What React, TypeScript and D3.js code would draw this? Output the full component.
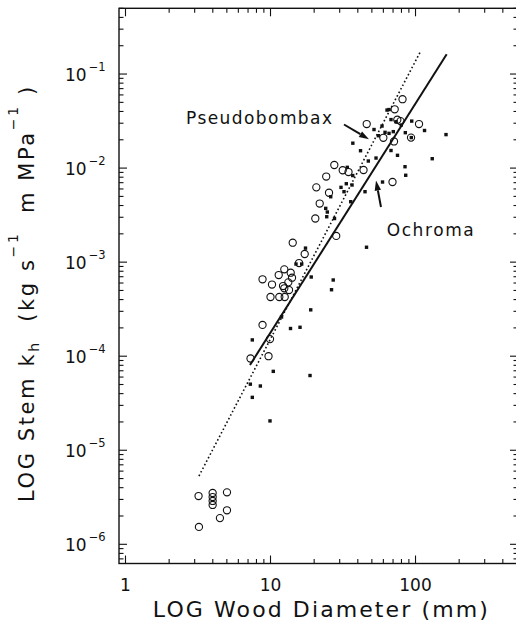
import React from "react";
import * as d3 from "d3";

// Pseudobombax stems (open circles): wood diameter (mm) and stem kh
const pseudoDiam = [
  3.19, 3.99, 3.99, 3.99, 3.99, 5.01, 5.01, 4.48, 3.21,
  7.28, 9.69, 8.81, 9.92, 10.0, 11.5, 12.53, 8.81, 10.24, 12.2, 12.45, 13.42, 13.27,
  11.39, 12.45, 13.78, 14.07, 15.73, 17.21, 14.23, 20.37, 21.84, 20.7, 25.32, 24.22,
  28.39, 27.54, 31.47, 34.51, 43.8, 46.07, 59.99, 71.06, 69.39, 71.86, 74.88, 78.78,
  81.35, 93.11, 105.7,
];
const pseudoKh = [
  3.26e-6, 3.51e-6, 3.18e-6, 2.89e-6, 2.62e-6, 3.57e-6, 2.3e-6, 1.9e-6, 1.53e-6,
  9.45e-5, 1.0e-4, 2.15e-4, 1.52e-4, 4.26e-4, 4.26e-4, 4.26e-4, 6.57e-4, 5.78e-4, 5.57e-4, 5.27e-4, 5.05e-4, 6.1e-4,
  7.29e-4, 8.39e-4, 7.72e-4, 6.83e-4, 9.78e-4, 1.22e-3, 1.61e-3, 2.91e-3, 4.2e-3, 6.24e-3, 5.47e-3, 8.13e-3,
  1.9e-3, 1.078e-2, 9.49e-3, 9.08e-3, 9.54e-3, 2.94e-2, 2.1e-2, 1.92e-2, 7.11e-3, 4.22e-2, 3.27e-2, 3.16e-2,
  5.4e-2, 2.11e-2, 2.94e-2,
];

// Ochroma stems (filled marks)
const ochromaDiam = [
  7.49, 10.45, 18.73, 7.26, 8.51, 7.49, 9.92, 11.91, 13.74, 15.98, 18.94, 26.35, 27.07,
  19.09, 14.99, 16.41, 17.43, 45.93, 24.03, 24.65, 24.42, 27.63, 26.02, 30.63, 32.13,
  33.32, 36.49, 35.74, 44.85, 33.86, 36.9, 47.26, 53.41, 41.76, 36.96, 59.23, 67.76,
  75.12, 84.64, 85.59, 130.4, 51.74, 58.75, 55.39, 61.63, 65.66, 70.28, 63.61, 65.66,
  67.76, 73.35, 79.79, 85.05, 93.55, 94.15, 115.4, 162.3,
];
const ochromaKh = [
  1.49e-4, 6.9e-5, 6.23e-5, 5.04e-5, 4.82e-5, 3.65e-5, 2.05e-5, 2.61e-4, 1.97e-4, 2.03e-4, 3.11e-4, 5.09e-4, 6.46e-4,
  6.95e-4, 9.55e-4, 9.55e-4, 1.41e-3, 1.44e-3, 3.73e-3, 3.41e-3, 3.04e-3, 2.91e-3, 4.96e-3, 6.24e-3, 5.61e-3,
  6.82e-3, 6.61e-3, 4.39e-3, 5.61e-3, 1.019e-2, 8.33e-3, 1.189e-2, 1.279e-2, 1.53e-2, 1.84e-2, 7.11e-3, 1.538e-2,
  1.367e-2, 1.034e-2, 8.39e-3, 1.258e-2, 2.57e-2, 2.8e-2, 2.21e-2, 2.4e-2, 2.34e-2, 2.44e-2, 4.14e-2, 4.19e-2,
  3.28e-2, 3.11e-2, 2.87e-2, 2.38e-2, 2.11e-2, 3.16e-2, 2.51e-2, 2.27e-2,
];

// Fitted power-law lines (end points)
const pseudoFitDiam = [3.21, 107.4];
const pseudoFitKh = [5.32e-6, 0.17];
const ochromaFitDiam = [7.22, 164];
const ochromaFitKh = [8.05e-5, 0.162];

// Axis ticks
const xTickValues = [1, 10, 100];
const xTickLabels = ["1", "10", "100"];
const yTickExponents = [-1, -2, -3, -4, -5, -6];

const FONT = "DejaVu Sans";
const INK = "#111";

export default function App() {
  const W = 516;
  const H = 623;
  const left = 119;
  const right = 518;
  const top = 8.3;
  const bottom = 563.5;

  const x = d3.scaleLog().domain([0.902, 509]).range([left, right]);
  const y = d3.scaleLog().domain([6.25e-7, 0.5]).range([bottom, top]);

  const [x0, x1] = x.domain();
  const [y0, y1] = y.domain();

  const xMinor: number[] = [];
  for (let k = -1; k <= 3; k++) {
    for (let m = 1; m <= 9; m++) {
      const v = m * Math.pow(10, k);
      if (v >= x0 && v <= x1) xMinor.push(v);
    }
  }
  const yMinor: number[] = [];
  for (let k = -7; k <= 0; k++) {
    for (let m = 1; m <= 9; m++) {
      const v = m * Math.pow(10, k);
      if (v >= y0 && v <= y1) yMinor.push(v);
    }
  }
  const isMajor = (v: number) => Math.abs(Math.log10(v) - Math.round(Math.log10(v))) < 1e-9;

  const line = d3
    .line<[number, number]>()
    .x((d) => x(d[0]))
    .y((d) => y(d[1]));

  const pseudoFit = line(pseudoFitDiam.map((d, i) => [d, pseudoFitKh[i]] as [number, number]));
  const ochromaFit = line(ochromaFitDiam.map((d, i) => [d, ochromaFitKh[i]] as [number, number]));

  const arrow = (fx: number, fy: number, tx: number, ty: number) => {
    const ang = Math.atan2(ty - fy, tx - fx);
    const len = 10;
    const half = 3.2;
    const bx = tx - len * Math.cos(ang);
    const by = ty - len * Math.sin(ang);
    const nx = -Math.sin(ang);
    const ny = Math.cos(ang);
    return (
      <g>
        <line x1={fx} y1={fy} x2={bx} y2={by} stroke={INK} strokeWidth={2} />
        <path
          d={`M${tx},${ty} L${bx + nx * half},${by + ny * half} L${bx - nx * half},${by - ny * half} Z`}
          fill={INK}
        />
      </g>
    );
  };

  return (
    <svg
      width={W}
      height={H}
      style={{ position: "absolute", left: 0, top: 0, background: "#fff" }}
      fontFamily={FONT}
    >
      <rect x={0} y={0} width={W} height={H} fill="#fff" />

      {/* frame */}
      <rect x={left} y={top} width={right - left} height={bottom - top} fill="none" stroke={INK} strokeWidth={1.4} />

      {/* x ticks, bottom and top */}
      {xMinor.map((v, i) => {
        const len = isMajor(v) ? 8 : 4.5;
        const px = x(v);
        return (
          <g key={"xt" + i}>
            <line x1={px} x2={px} y1={bottom} y2={bottom - len} stroke={INK} strokeWidth={1.1} />
            <line x1={px} x2={px} y1={top} y2={top + len} stroke={INK} strokeWidth={1.1} />
          </g>
        );
      })}

      {/* y ticks, left and right */}
      {yMinor.map((v, i) => {
        const len = isMajor(v) ? 8 : 4.5;
        const py = y(v);
        return (
          <g key={"yt" + i}>
            <line x1={left} x2={left + len} y1={py} y2={py} stroke={INK} strokeWidth={1.1} />
            <line x1={right} x2={right - len} y1={py} y2={py} stroke={INK} strokeWidth={1.1} />
          </g>
        );
      })}

      {/* x tick labels */}
      {xTickValues.map((v, i) => (
        <text key={"xl" + i} x={x(v)} y={590.5} fontSize={17} textAnchor="middle" fill={INK}>
          {xTickLabels[i]}
        </text>
      ))}

      {/* y tick labels */}
      {yTickExponents.map((e) => (
        <text key={"yl" + e} x={65} y={y(Math.pow(10, e)) + 6.7} fontSize={17} fill={INK}>
          10
          <tspan dx={2} dy={-10} fontSize={11.5}>
            {"\u2212" + Math.abs(e)}
          </tspan>
        </text>
      ))}

      {/* axis titles */}
      <text x={320.3} y={616.7} fontSize={22} textAnchor="middle" fill={INK} textLength={335} lengthAdjust="spacing">
        LOG Wood Diameter (mm)
      </text>
      <text transform="translate(33.5,502) rotate(-90)" fontSize={21} fill={INK} letterSpacing={2.6}>
        LOG Stem k
        <tspan dy={5} fontSize={14}>h</tspan>
        <tspan dy={-5} fontSize={21}>{"\u00a0\u00a0(kg s"}</tspan>
        <tspan dy={-16} fontSize={14}>{"\u22121"}</tspan>
        <tspan dy={16} fontSize={21}>{"\u00a0\u00a0m MPa"}</tspan>
        <tspan dy={-16} fontSize={14}>{"\u22121"}</tspan>
        <tspan dy={16} fontSize={21}>{"\u00a0)"}</tspan>
      </text>

      {/* fitted lines */}
      <path d={pseudoFit ?? ""} fill="none" stroke={INK} strokeWidth={1.6} strokeDasharray="1.6 2.4" />
      <path d={ochromaFit ?? ""} fill="none" stroke={INK} strokeWidth={2} />

      {/* data */}
      {pseudoDiam.map((d, i) => (
        <circle key={"p" + i} cx={x(d)} cy={y(pseudoKh[i])} r={3.6} fill="none" stroke={INK} strokeWidth={1.1} />
      ))}
      {ochromaDiam.map((d, i) => (
        <rect key={"o" + i} x={x(d) - 1.7} y={y(ochromaKh[i]) - 1.7} width={3.4} height={3.4} fill={INK} />
      ))}

      {/* species labels and arrows */}
      <text x={186} y={124} fontSize={17} fill={INK} textLength={146} lengthAdjust="spacing">
        Pseudobombax
      </text>
      {arrow(344, 124.5, 369, 139.3)}
      <text x={386.7} y={236} fontSize={17} fill={INK} textLength={87} lengthAdjust="spacing">
        Ochroma
      </text>
      {arrow(381, 207, 376, 180.5)}
    </svg>
  );
}
